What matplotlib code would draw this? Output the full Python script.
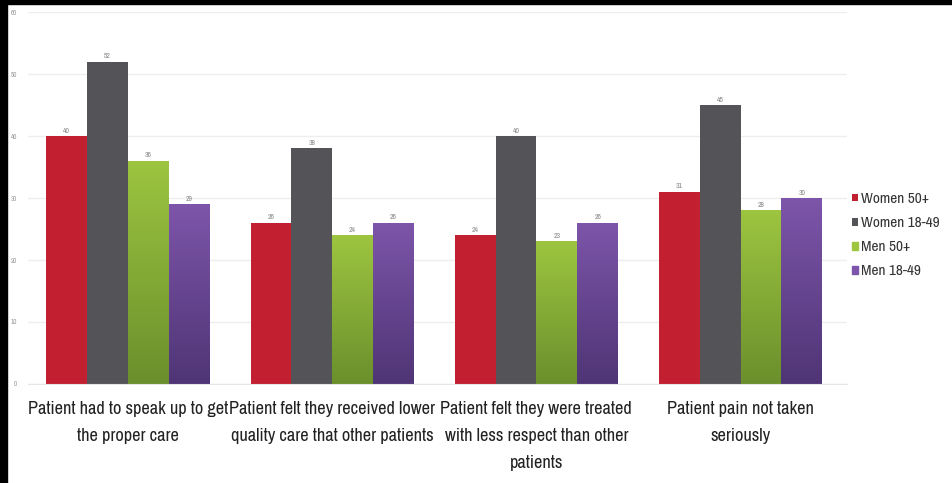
import matplotlib.pyplot as plt
import matplotlib.colors as mcolors
from matplotlib import font_manager
import numpy as np

# data
categories = [
    "Patient had to speak up to get\nthe proper care",
    "Patient felt they received lower\nquality care that other patients",
    "Patient felt they were treated\nwith less respect than other\npatients",
    "Patient pain not taken\nseriously",
]
series_names = ["Women 50+", "Women 18-49", "Men 50+", "Men 18-49"]
women_50 = [40, 26, 24, 31]
women_18_49 = [52, 38, 40, 45]
men_50 = [36, 24, 23, 28]
men_18_49 = [29, 26, 26, 30]
yticks = [0, 10, 20, 30, 40, 50, 60]

# (top colour, bottom colour) for each series
colors = [("#c21f31", "#c21f31"), ("#535358", "#535358"),
          ("#9dc540", "#6b8f2c"), ("#7d55aa", "#4f3575")]

# the original uses a condensed face; take a narrow one if there is one
names = sorted({f.name for f in font_manager.fontManager.ttflist})
narrow = [n for n in names if "Narrow" in n or "Condensed" in n]
main_font = narrow[0] if narrow else "DejaVu Sans"
plt.rcParams['font.family'] = [main_font, 'DejaVu Sans']

fig = plt.figure(figsize=(9.52, 4.83), dpi=100, facecolor="white")
# thin black frame on the left and top like the screenshot
fig.patches.append(plt.Rectangle((0, 0), 7 / 952, 1, transform=fig.transFigure,
                                 color="black"))
fig.patches.append(plt.Rectangle((0, 1 - 4 / 483), 1, 4 / 483,
                                 transform=fig.transFigure, color="black"))
ax = fig.add_axes([0.0294, 0.205, 0.86, 0.77])

x = np.arange(len(categories))
width = 0.2
all_series = [women_50, women_18_49, men_50, men_18_49]

for i, (vals, name) in enumerate(zip(all_series, series_names)):
    top, bottom = colors[i]
    offs = x + (i - 1.5) * width
    bars = ax.bar(offs, vals, width, color=top, label=name, zorder=2)
    if top != bottom:
        # vertical gradient for the green and purple bars
        cmap = mcolors.LinearSegmentedColormap.from_list("g", [bottom, top])
        grad = np.linspace(0, 1, 256).reshape(-1, 1)
        for b in bars:
            bx, by = b.get_x(), b.get_y()
            bw, bh = b.get_width(), b.get_height()
            im = ax.imshow(grad, cmap=cmap, aspect="auto", origin="lower",
                           extent=[bx, bx + bw, by, by + bh], zorder=2.5)
            im.set_clip_path(b)
    for b, v in zip(bars, vals):
        ax.text(b.get_x() + b.get_width() / 2, v + 0.4, str(v), ha="center",
                va="bottom", fontsize=5.5, color="#888888", zorder=3)

ax.set_xlim(-0.49, 3.52)
ax.set_ylim(0, 60)
ax.set_yticks(yticks)
ax.set_yticklabels([str(t) for t in yticks], fontsize=5, color="#999999")
ax.tick_params(axis="y", length=0, pad=8)
ax.tick_params(axis="x", length=0, pad=12)
ax.set_xticks(x)
lab_size = 13.2 if narrow else 11
ax.set_xticklabels(categories, fontsize=lab_size, color="#222222", linespacing=1.85)
ax.grid(axis="y", color="#eeeeee", linewidth=1, zorder=0)
for s in ["top", "right", "left"]:
    ax.spines[s].set_visible(False)
ax.spines["bottom"].set_color("#e6e6e6")

leg = ax.legend(loc="center left", bbox_to_anchor=(0.99, 0.40), frameon=False,
                fontsize=11 if narrow else 9, handlelength=0.4, handleheight=0.4,
                handletextpad=0.2, labelspacing=0.66)
for t in leg.get_texts():
    t.set_color("#333333")
leg.legend_handles[2].set_color(colors[2][0])
leg.legend_handles[3].set_color(colors[3][0])

fig.savefig("out.png", dpi=100)
